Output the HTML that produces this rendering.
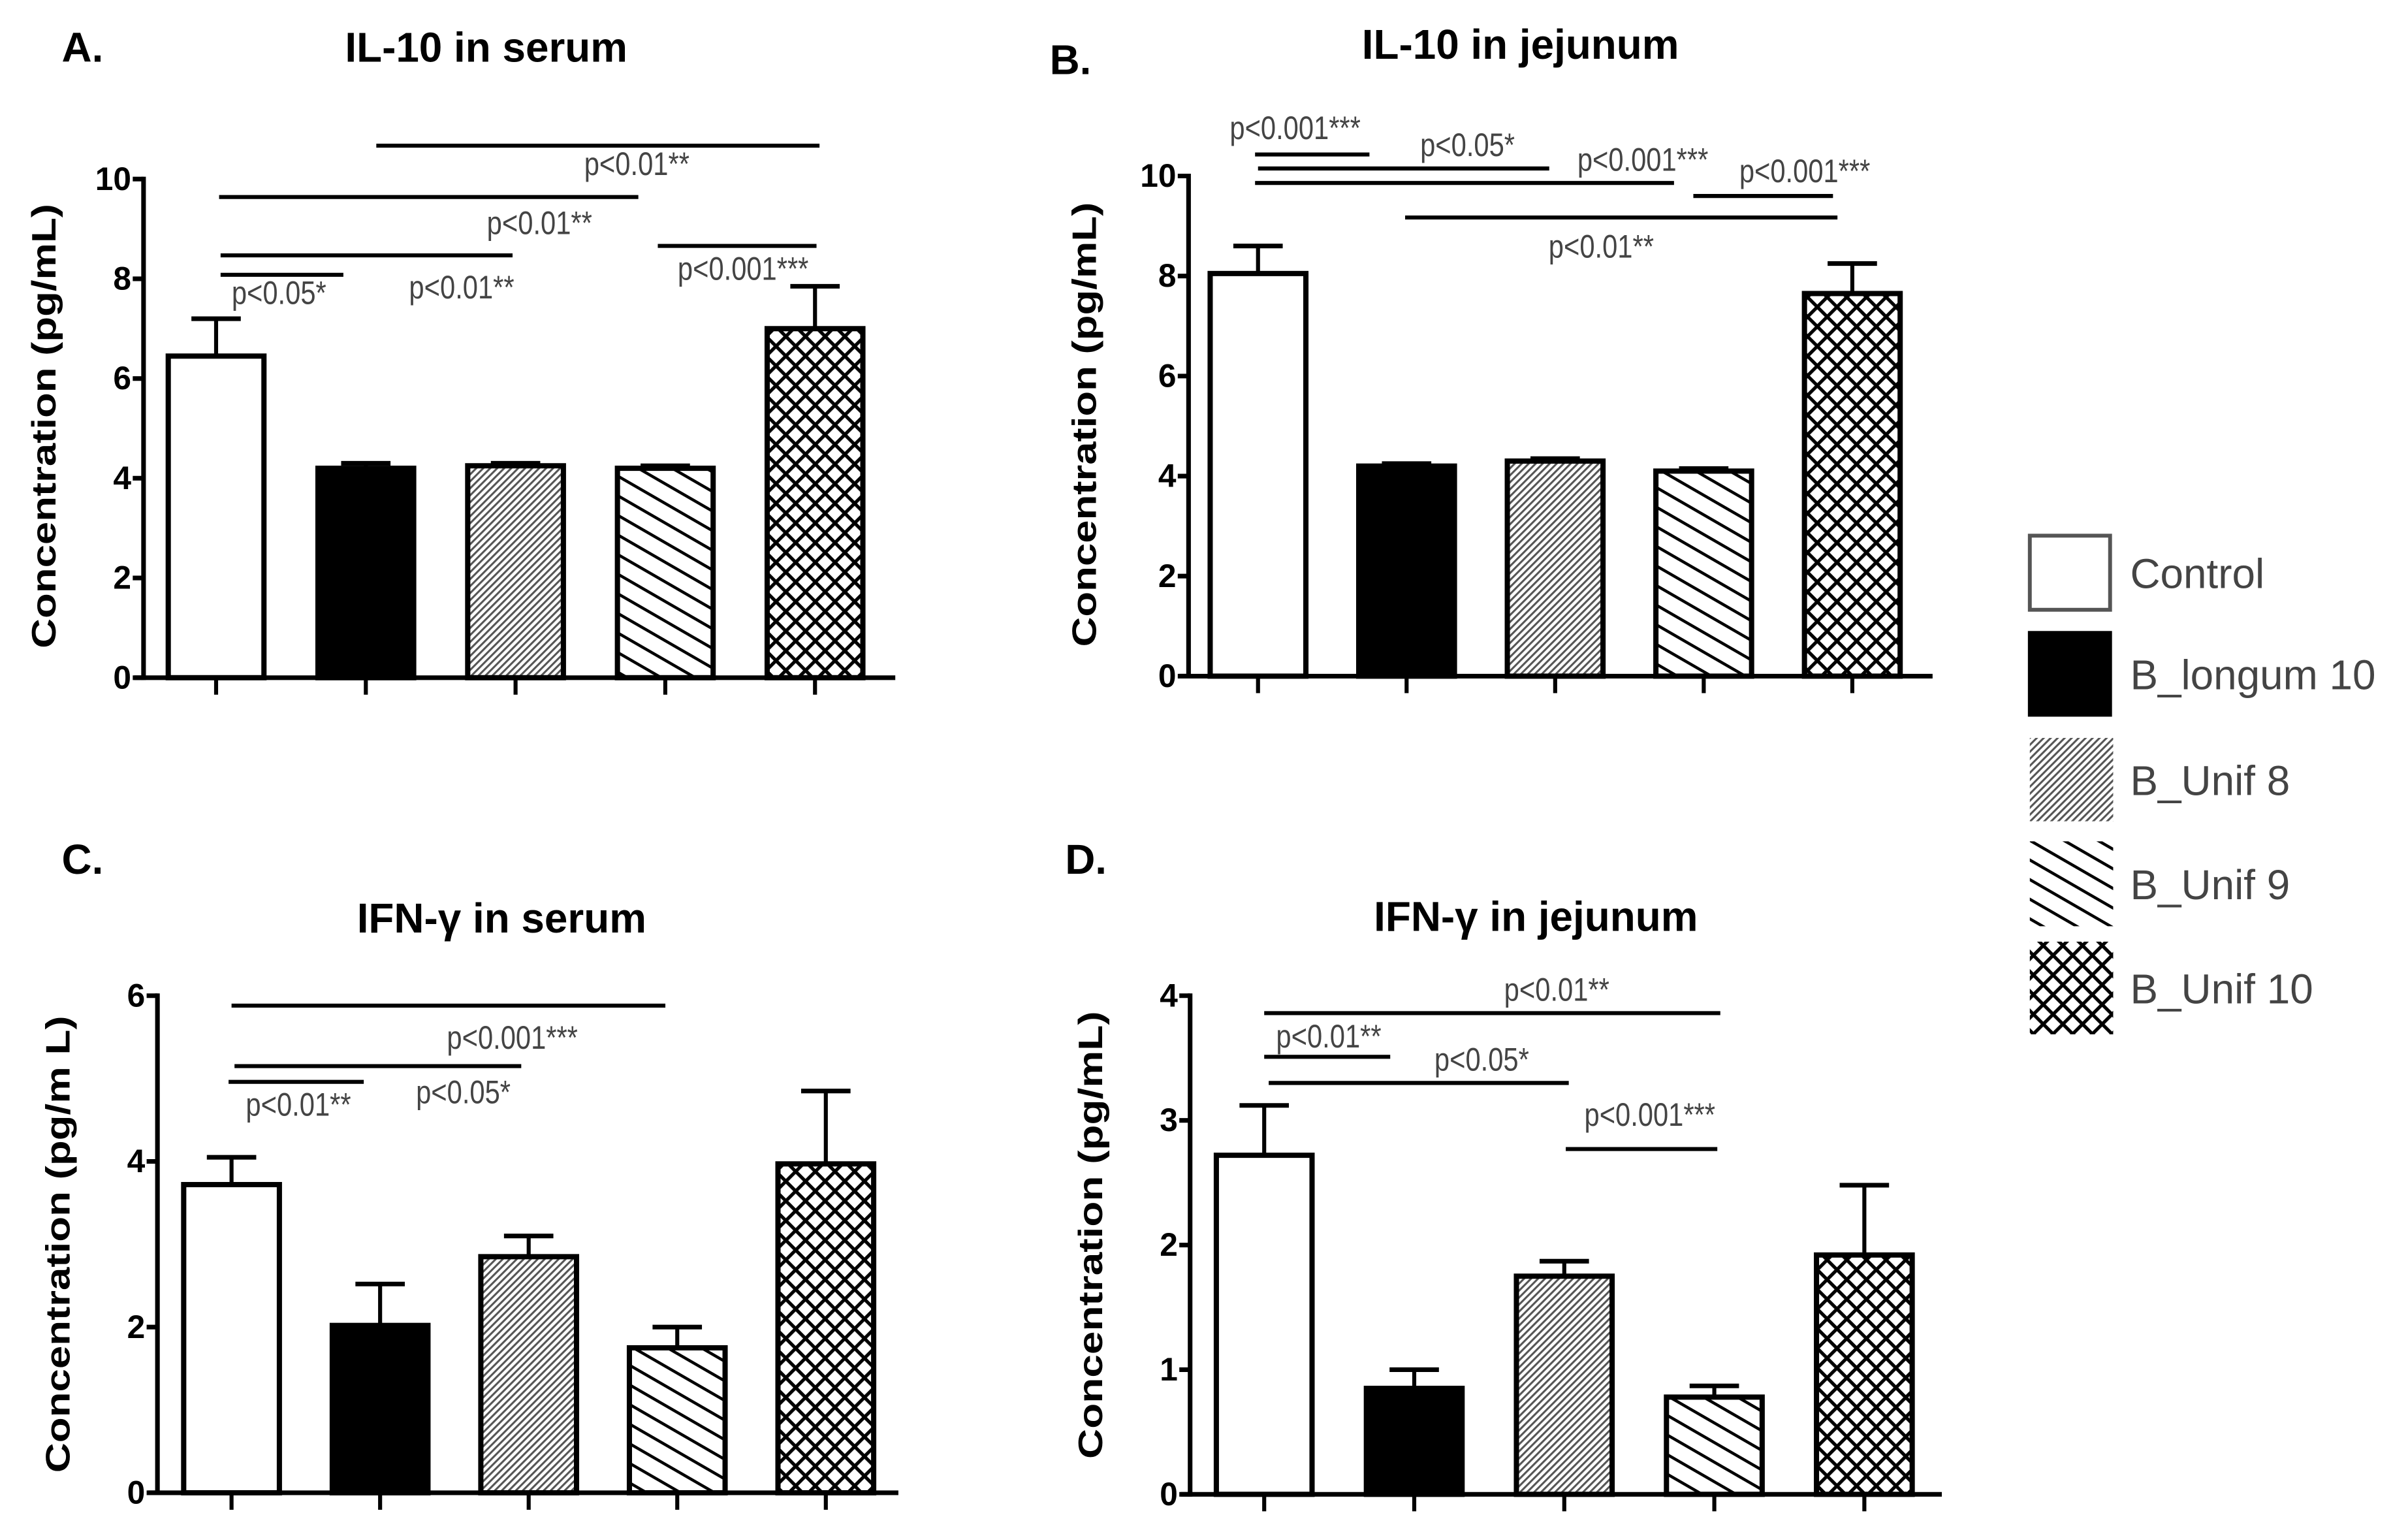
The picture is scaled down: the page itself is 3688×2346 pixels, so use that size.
<!DOCTYPE html>
<html><head><meta charset="utf-8"><style>
html,body{margin:0;padding:0;background:#fff;}
svg{display:block;}
.tk{font-family:"Liberation Sans",sans-serif;font-weight:bold;font-size:21px;fill:#000;}
.ttl{font-family:"Liberation Sans",sans-serif;font-weight:bold;font-size:27px;fill:#000;}
.yl{font-family:"Liberation Sans",sans-serif;font-weight:bold;font-size:22px;fill:#000;}
.pv{font-family:"Liberation Sans",sans-serif;font-size:21px;fill:#444;}
.lg{font-family:"Liberation Sans",sans-serif;font-size:27px;fill:#444;}
</style></head><body>
<svg id="fig" width="3688" height="2346" viewBox="0 0 1560 992.4" preserveAspectRatio="none" xmlns="http://www.w3.org/2000/svg">
<defs>
<pattern id="p8" patternUnits="userSpaceOnUse" width="3.2" height="3.2" patternTransform="rotate(-45)"><rect width="3.2" height="3.2" fill="#fff"/><rect width="3.2" height="1.3" fill="#555"/></pattern>
<pattern id="p9" patternUnits="userSpaceOnUse" width="11" height="11" patternTransform="rotate(30)"><rect width="11" height="11" fill="#fff"/><rect width="11" height="1.9" fill="#000"/></pattern>
<pattern id="p10" patternUnits="userSpaceOnUse" width="9" height="9" patternTransform="rotate(45)"><rect width="9" height="9" fill="#fff"/><rect width="9" height="2.2" fill="#000"/><rect width="2.2" height="9" fill="#000"/></pattern>
</defs>
</svg>
<script>
const groups = ['Control','B_longum 10','B_Unif 8','B_Unif 9','B_Unif 10'];
const fills = ['#fff','#000','url(#p8)','url(#p9)','url(#p10)'];

const aMeans = [6.45, 4.2, 4.25, 4.2, 7.0];
const aErrTop = [7.2, 4.3, 4.3, 4.25, 7.85];
const aTicks = [0,2,4,6,8,10];
const aSig = [[1.07,4.03,10.67,'p<0.01**',2.81,18],[0.02,2.82,9.64,'p<0.01**',2.16,23],[0.03,1.98,8.47,'p<0.01**',1.64,27],[0.03,0.85,8.08,'p<0.05*',0.42,18],[2.95,4.01,8.66,'p<0.001***',3.52,21]];

const bMeans = [8.05, 4.2, 4.3, 4.1, 7.65];
const bErrTop = [8.6, 4.25, 4.35, 4.15, 8.25];
const bTicks = [0,2,4,6,8,10];
const bSig = [[-0.02,0.75,10.43,'p<0.001***',0.25,-11],[0,1.96,10.15,'p<0.05*',1.41,-9],[-0.02,2.8,9.86,'p<0.001***',2.59,-9],[2.93,3.87,9.6,'p<0.001***',3.68,-10],[0.99,3.9,9.17,'p<0.01**',2.31,25]];

const cMeans = [3.72, 2.02, 2.85, 1.75, 3.97];
const cErrTop = [4.05, 2.52, 3.1, 2.0, 4.85];
const cTicks = [0,2,4,6];
const cSig = [[0,2.92,5.88,'p<0.001***',1.89,27],[0.02,1.95,5.15,'p<0.05*',1.56,23],[-0.02,0.89,4.96,'p<0.01**',0.45,21]];

const dMeans = [2.72, 0.85, 1.75, 0.78, 1.92];
const dErrTop = [3.12, 1.0, 1.87, 0.87, 2.48];
const dTicks = [0,1,2,3,4];
const dSig = [[0,3.04,3.86,'p<0.01**',1.95,-9],[0,0.84,3.51,'p<0.01**',0.43,-7],[0.03,2.03,3.30,'p<0.05*',1.45,-9],[2.01,3.02,2.77,'p<0.001***',2.57,-16]];

const NS='http://www.w3.org/2000/svg';
const svg=document.getElementById('fig');
function mk(tag,attrs,parent){const e=document.createElementNS(NS,tag);for(const k in attrs)e.setAttribute(k,attrs[k]);(parent||svg).appendChild(e);return e;}

function panel(cfg){
  const g=mk('g',{});
  
  
  const ymax=cfg.ticks[cfg.ticks.length-1];
  const yS=v=>cfg.y0-(cfg.y0-cfg.yTop)*v/ymax;
  const xS=i=>cfg.x1+i*cfg.step;
  const lt=mk('text',{x:cfg.letterX,y:cfg.letterY,class:'ttl'},g);lt.textContent=cfg.letter;
  
  
  const tt=mk('text',{x:cfg.titleX,y:cfg.titleY,class:'ttl','text-anchor':'middle'},g);tt.textContent=cfg.title;
  
  
  const yl=mk('text',{x:0,y:0,class:'yl','text-anchor':'middle',transform:`translate(${cfg.ylX},${cfg.ylY}) rotate(-90)`,textLength:cfg.ylLen,lengthAdjust:'spacingAndGlyphs'},g);yl.textContent=cfg.ylabel;
  
  
  cfg.means.forEach((m,i)=>{
    const cx=xS(i),w=62;
    const el=mk('line',{x1:cx,x2:cx,y1:yS(m),y2:yS(cfg.err[i]),stroke:'#000','stroke-width':2.6},g);
    
    
    const cap=mk('line',{x1:cx-16,x2:cx+16,y1:yS(cfg.err[i]),y2:yS(cfg.err[i]),stroke:'#000','stroke-width':3},g);
    
    
    const r=mk('rect',{x:cx-w/2,y:yS(m),width:w,height:yS(0)-yS(m),fill:fills[i],stroke:'#000','stroke-width':3.4},g);
    
    
    const t=mk('line',{x1:cx,x2:cx,y1:cfg.y0,y2:cfg.y0+11,stroke:'#000','stroke-width':2.6},g);
    
    
  });
  const ya=mk('line',{x1:cfg.ax,x2:cfg.ax,y1:yS(ymax)-1.5,y2:cfg.y0+1.5,stroke:'#000','stroke-width':3},g);
  
  
  const xa=mk('line',{x1:cfg.ax-6,x2:cfg.xEnd,y1:cfg.y0,y2:cfg.y0,stroke:'#000','stroke-width':3},g);
  
  
  cfg.ticks.forEach(v=>{
    const tl=mk('line',{x1:cfg.ax-7,x2:cfg.ax,y1:yS(v),y2:yS(v),stroke:'#000','stroke-width':3},g);
    
    
    const tx=mk('text',{x:cfg.ax-8,y:yS(v)+7,class:'tk','text-anchor':'end'},g);tx.textContent=v;
    
    
  });
  cfg.sig.forEach(s=>{
    const y=yS(s[2]);
    const l=mk('line',{x1:xS(s[0]),x2:xS(s[1]),y1:y,y2:y,stroke:'#000','stroke-width':2.6},g);
    
    
    const t=mk('text',{x:xS(s[4]),y:y+s[5]+1,class:'pv','text-anchor':'middle'},g);t.textContent=s[3];
    
    
    const len=t.getComputedTextLength();
    if(len>0){t.setAttribute('textLength',(len*0.84).toFixed(1));t.setAttribute('lengthAdjust','spacingAndGlyphs');}
  });
}
panel({id:'a',letter:'A.',letterX:40,letterY:40,title:'IL-10 in serum',titleX:315,titleY:40,ylabel:'Concentration (pg/mL)',ylX:36,ylY:276,ylLen:288,ax:93,x1:140,step:97,y0:439,yTop:116,xEnd:580,ticks:aTicks,means:aMeans,err:aErrTop,sig:aSig});
panel({id:'b',letter:'B.',letterX:680,letterY:48,title:'IL-10 in jejunum',titleX:985,titleY:38,ylabel:'Concentration (pg/mL)',ylX:710,ylY:275,ylLen:288,ax:770,x1:815,step:96.25,y0:438,yTop:114,xEnd:1252,ticks:bTicks,means:bMeans,err:bErrTop,sig:bSig});
panel({id:'c',letter:'C.',letterX:40,letterY:566,title:'IFN-\u03b3 in serum',titleX:325,titleY:604,ylabel:'Concentration (pg/m L)',ylX:45,ylY:806,ylLen:296,ax:102,x1:150,step:96.25,y0:967,yTop:645,xEnd:582,ticks:cTicks,means:cMeans,err:cErrTop,sig:cSig});
panel({id:'d',letter:'D.',letterX:690,letterY:566,title:'IFN-\u03b3 in jejunum',titleX:995,titleY:603,ylabel:'Concentration (pg/mL)',ylX:714,ylY:800,ylLen:290,ax:771,x1:819,step:97.2,y0:968,yTop:645,xEnd:1258,ticks:dTicks,means:dMeans,err:dErrTop,sig:dSig});

const legBoxY=[347,410,478,545,610];
const legBoxH=[48,53,54,55,60];
const lg=mk('g',{});


groups.forEach((name,i)=>{
  const r=mk('rect',{x:1315,y:legBoxY[i],width:i<2?52:54,height:legBoxH[i],fill:fills[i],stroke:i<2?(i==0?'#555':'#000'):'none','stroke-width':2.5},lg);
  
  
  const t=mk('text',{x:1380,y:legBoxY[i]+legBoxH[i]/2+10,class:'lg'},lg);t.textContent=name;
  
  
});
</script>
</body></html>
